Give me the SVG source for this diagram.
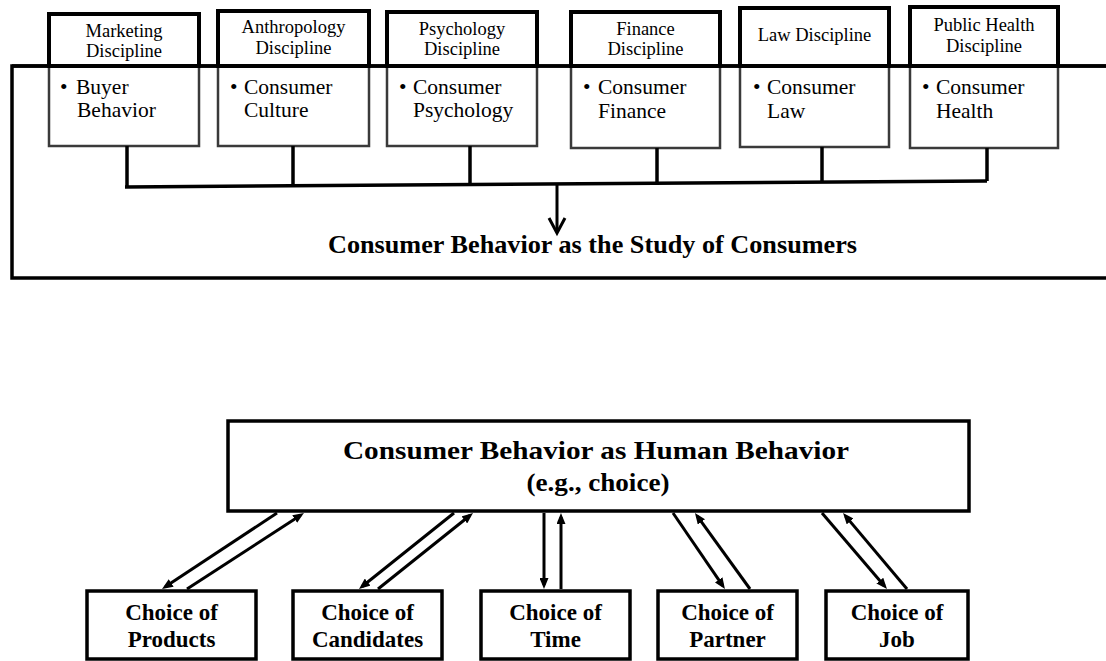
<svg xmlns="http://www.w3.org/2000/svg" width="1106" height="661" viewBox="0 0 1106 661">
<style>
  .hdr { fill: #fff; stroke: #000; stroke-width: 4; }
  .body { fill: #fff; stroke: #3a3a3a; stroke-width: 2.5; }
  .ht { font-family: "Liberation Serif", "Times New Roman", serif; font-size: 18.5px; text-anchor: middle; fill: #000; }
  .bt { font-family: "Liberation Serif", "Times New Roman", serif; font-size: 21.5px; fill: #000; }
  .title { font-family: "Liberation Serif", "Times New Roman", serif; font-size: 25px; font-weight: bold; text-anchor: middle; fill: #000; }
  .ct { font-family: "Liberation Serif", "Times New Roman", serif; font-size: 23px; font-weight: bold; text-anchor: middle; fill: #000; }
  .ln { fill: none; stroke: #000; stroke-width: 3.5; }
  .ar { fill: none; stroke: #000; stroke-width: 3; marker-end: url(#ah); }
  .cbox { fill: #fff; stroke: #000; stroke-width: 3.5; }
</style>
<defs>
  <marker id="ah" viewBox="0 0 10 10" refX="6.4" refY="5" markerWidth="11" markerHeight="9" markerUnits="userSpaceOnUse" orient="auto" preserveAspectRatio="none">
    <path d="M0,0 L10,5 L0,10 z" fill="#000"/>
  </marker>
</defs>
<rect width="1106" height="661" fill="#fff"/>

<!-- Top frame -->
<g id="frame">
  <path class="ln" d="M1106,66 H12 V278 H1106"/>
</g>

<g id="marketing">
  <rect class="body" x="49" y="66" width="150" height="80"/>
  <rect class="hdr" x="49" y="14" width="150" height="52"/>
  <text class="ht" x="124" y="37">Marketing</text>
  <text class="ht" x="124" y="57">Discipline</text>
  <text class="bt" x="60" y="94">•</text>
  <text class="bt" x="76" y="94">Buyer</text>
  <text class="bt" x="77" y="117">Behavior</text>
</g>
<g id="anthropology">
  <rect class="body" x="218" y="66" width="151" height="80"/>
  <rect class="hdr" x="218" y="11" width="151" height="55"/>
  <text class="ht" x="293.5" y="33">Anthropology</text>
  <text class="ht" x="293.5" y="54">Discipline</text>
  <text class="bt" x="230" y="94">•</text>
  <text class="bt" x="244" y="94">Consumer</text>
  <text class="bt" x="244" y="117">Culture</text>
</g>
<g id="psychology">
  <rect class="body" x="387" y="66" width="150" height="80"/>
  <rect class="hdr" x="387" y="12" width="150" height="54"/>
  <text class="ht" x="462" y="35">Psychology</text>
  <text class="ht" x="462" y="55">Discipline</text>
  <text class="bt" x="399" y="94">•</text>
  <text class="bt" x="413" y="94">Consumer</text>
  <text class="bt" x="413" y="117">Psychology</text>
</g>
<g id="finance">
  <rect class="body" x="571" y="66" width="149" height="82"/>
  <rect class="hdr" x="571" y="12" width="149" height="54"/>
  <text class="ht" x="645.5" y="35">Finance</text>
  <text class="ht" x="645.5" y="55">Discipline</text>
  <text class="bt" x="583" y="94">•</text>
  <text class="bt" x="598" y="94">Consumer</text>
  <text class="bt" x="598" y="118">Finance</text>
</g>
<g id="law">
  <rect class="body" x="740" y="66" width="149" height="81"/>
  <rect class="hdr" x="740" y="8" width="149" height="58"/>
  <text class="ht" x="814.5" y="41">Law Discipline</text>
  <text class="bt" x="753" y="94">•</text>
  <text class="bt" x="767" y="94">Consumer</text>
  <text class="bt" x="767" y="118">Law</text>
</g>
<g id="publichealth">
  <rect class="body" x="910" y="66" width="148" height="82"/>
  <rect class="hdr" x="910" y="7" width="148" height="59"/>
  <text class="ht" x="984" y="31">Public Health</text>
  <text class="ht" x="984" y="52">Discipline</text>
  <text class="bt" x="922" y="94">•</text>
  <text class="bt" x="936" y="94">Consumer</text>
  <text class="bt" x="936" y="118">Health</text>
</g>

<!-- frame top line over boxes -->
<g id="frame-top">
  <path class="ln" d="M12,66 H1106"/>
</g>

<g id="connectors">
  <path class="ln" d="M125,187 L987,181"/>
  <path class="ln" d="M127,146 V187"/>
  <path class="ln" d="M293,146 V186"/>
  <path class="ln" d="M470,146 V185"/>
  <path class="ln" d="M657,148 V183"/>
  <path class="ln" d="M822,147 V182"/>
  <path class="ln" d="M987,148 V181"/>
  <path fill="none" stroke="#000" stroke-width="3" d="M557,184 V232"/>
  <path fill="none" stroke="#000" stroke-width="3" d="M549,218 L557,233 L565,218"/>

  <path class="ar" d="M277,513 L165.3,586.8"/>
  <path class="ar" d="M187,589 L300.6,515.2"/>
  <path class="ar" d="M454,513 L362.1,586.5"/>
  <path class="ar" d="M378,589 L469.9,515.5"/>
  <path class="ar" d="M544,513 L544,585"/>
  <path class="ar" d="M561,589 L561,517"/>
  <path class="ar" d="M673,513 L722.7,585.7"/>
  <path class="ar" d="M750,589 L697.3,516.2"/>
  <path class="ar" d="M822,513 L884.4,586"/>
  <path class="ar" d="M907,589 L845.6,516.1"/>
</g>

<g id="study-title">
  <text class="title" x="592.5" y="253" textLength="529" lengthAdjust="spacingAndGlyphs">Consumer Behavior as the Study of Consumers</text>
</g>

<g id="human-behavior">
  <rect class="cbox" x="228" y="421" width="741" height="90"/>
  <text class="title" x="596" y="459" textLength="506" lengthAdjust="spacingAndGlyphs">Consumer Behavior as Human Behavior</text>
  <text class="title" x="598" y="491" textLength="143" lengthAdjust="spacingAndGlyphs">(e.g., choice)</text>
</g>

<g id="products">
  <rect class="cbox" x="87" y="591" width="169" height="68"/>
  <text class="ct" x="171.5" y="620">Choice of</text>
  <text class="ct" x="171.5" y="647">Products</text>
</g>
<g id="candidates">
  <rect class="cbox" x="293" y="591" width="149" height="68"/>
  <text class="ct" x="367.5" y="620">Choice of</text>
  <text class="ct" x="367.5" y="647">Candidates</text>
</g>
<g id="time">
  <rect class="cbox" x="481" y="591" width="149" height="68"/>
  <text class="ct" x="555.5" y="620">Choice of</text>
  <text class="ct" x="555.5" y="647">Time</text>
</g>
<g id="partner">
  <rect class="cbox" x="658" y="591" width="139" height="68"/>
  <text class="ct" x="727.5" y="620">Choice of</text>
  <text class="ct" x="727.5" y="647">Partner</text>
</g>
<g id="job">
  <rect class="cbox" x="826" y="591" width="142" height="68"/>
  <text class="ct" x="897" y="620">Choice of</text>
  <text class="ct" x="897" y="647">Job</text>
</g>
</svg>
